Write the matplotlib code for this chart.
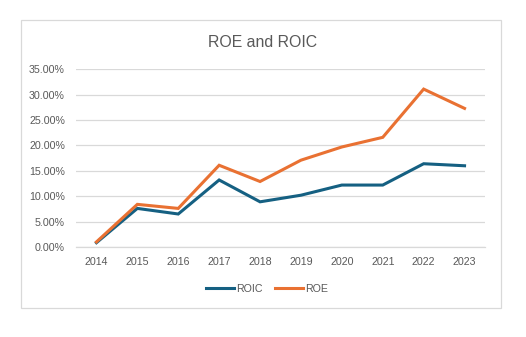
import matplotlib

matplotlib.use("Agg")
import matplotlib.pyplot as plt  # noqa: E402
from matplotlib.patches import Rectangle  # noqa: E402
from matplotlib.ticker import PercentFormatter  # noqa: E402

years = ["2014", "2015", "2016", "2017", "2018", "2019", "2020", "2021", "2022", "2023"]
roic = [0.0085, 0.076, 0.065, 0.132, 0.089, 0.102, 0.122, 0.122, 0.164, 0.160]
roe = [0.010, 0.084, 0.076, 0.161, 0.129, 0.171, 0.197, 0.216, 0.311, 0.273]
yticks = [0.0, 0.05, 0.10, 0.15, 0.20, 0.25, 0.30, 0.35]

BLUE = "#156082"
ORANGE = "#E97132"
TEXT = "#595959"
GRID = "#D9D9D9"

plt.rcParams["font.family"] = ["Liberation Sans", "DejaVu Sans"]

W, H = 526, 337
fig = plt.figure(figsize=(W / 100, H / 100), dpi=100)

# chart frame
fig.patches.append(Rectangle((20.5 / W, 1 - 307.5 / H), 480 / W, 287.5 / H,
                             transform=fig.transFigure, fill=False,
                             edgecolor=GRID, lw=0.9))

ax = fig.add_axes([76 / W, 1 - 247 / H, 409 / W, 177.7 / H])
x = range(len(years))
ax.plot(x, roic, color=BLUE, lw=2.2, label="ROIC", solid_joinstyle="miter")
ax.plot(x, roe, color=ORANGE, lw=2.2, label="ROE", solid_joinstyle="miter")

ax.set_xlim(-0.5, len(years) - 0.5)
ax.set_ylim(0, 0.35)
ax.set_yticks(yticks)
ax.yaxis.set_major_formatter(PercentFormatter(1.0, decimals=2))
ax.set_xticks(list(x))
ax.set_xticklabels(years)
ax.grid(axis="y", color=GRID, lw=0.9)
ax.set_axisbelow(True)
for s in ("top", "right", "left"):
    ax.spines[s].set_visible(False)
ax.spines["bottom"].set_color(GRID)
ax.spines["bottom"].set_linewidth(0.9)
ax.tick_params(length=0, labelsize=7.7, labelcolor=TEXT)
ax.tick_params(axis="y", pad=8)
ax.tick_params(axis="x", pad=7)

fig.text(0.5, 1 - 42.5 / H, "ROE and ROIC", ha="center", va="center",
         fontsize=11.4, color=TEXT)

fig.legend(loc="center", bbox_to_anchor=(267 / W, 1 - 289 / H), ncol=2,
           frameon=False, fontsize=7.7, labelcolor=TEXT, handlelength=2.6,
           handletextpad=0.2, columnspacing=1.2)

fig.savefig("out.png", dpi=100)
